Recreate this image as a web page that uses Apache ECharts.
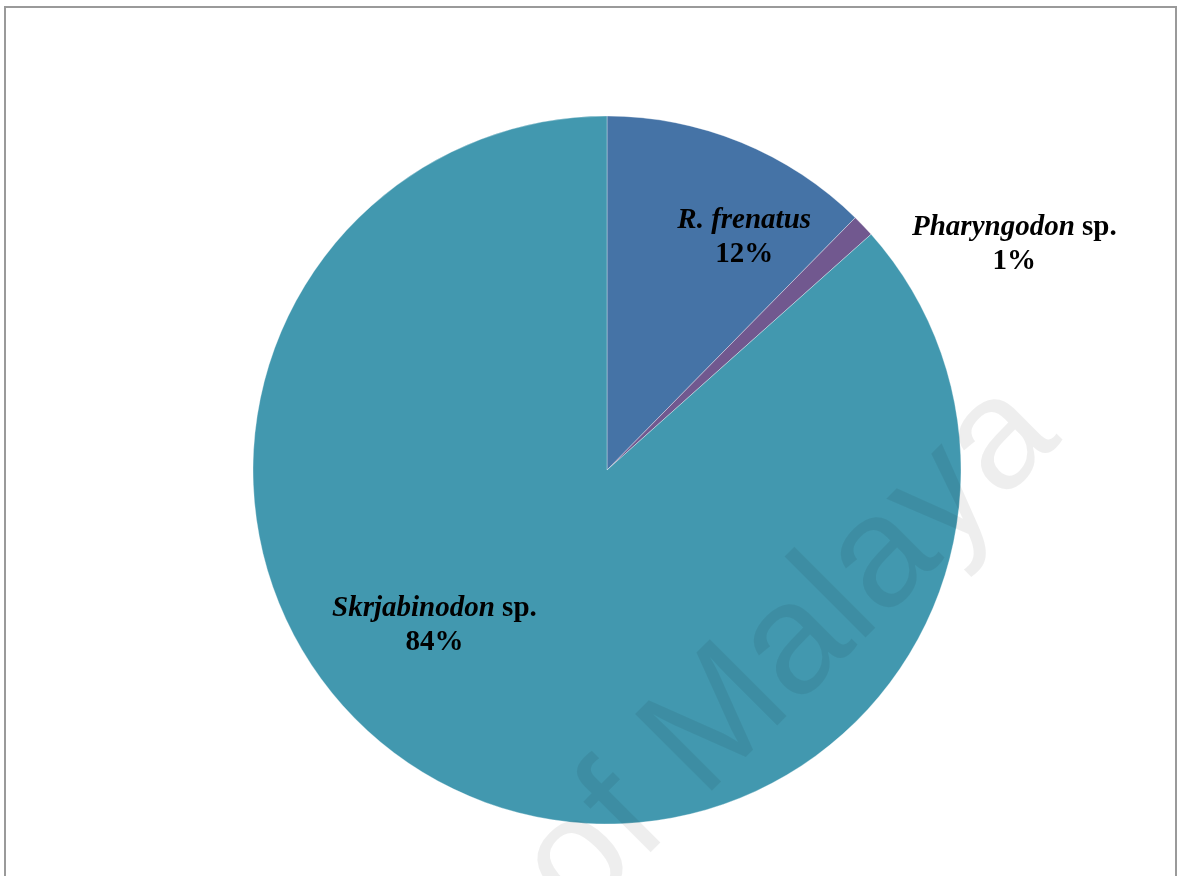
<!DOCTYPE html>
<html>
<head>
<meta charset="utf-8">
<title>Nematode species composition</title>
<script src="https://cdn.jsdelivr.net/npm/echarts@6/dist/echarts.min.js"></script>
<style>
  html, body { margin: 0; padding: 0; background: #ffffff; }
  #chart { width: 1178px; height: 876px; }
</style>
</head>
<body>
<div id="chart"></div>
<script>
// Species names: italic genus/species part and the plain suffix
const speciesNames = ['R. frenatus', 'Pharyngodon', 'Skrjabinodon'];
const speciesSuffix = ['', ' sp.', ' sp.'];
// Percentage of the nematode community per species
const percentValues = [12, 1, 84];
const sliceColors = ['#4573A6', '#71588F', '#4298AF'];
// Manual nudges of each label from its default slice position
const labelShiftX = [69, 277, -99];
const labelShiftY = [-66, -101, -9];

const chart = echarts.init(document.getElementById('chart'), null, { renderer: 'canvas' });

const pieData = speciesNames.map((name, i) => ({
  name: name,
  value: percentValues[i],
  itemStyle: { color: sliceColors[i] }
}));

const labelFont = '"Liberation Serif", "Times New Roman", serif';

const option = {
  animation: false,
  backgroundColor: '#ffffff',
  graphic: [
    {
      type: 'rect',
      shape: { x: 5, y: 7, width: 1171, height: 900 },
      style: { fill: 'none', stroke: '#9a9a9a', lineWidth: 2 },
      silent: true,
      z: 0
    },
    {
      type: 'text',
      x: 1088,
      y: 465,
      rotation: Math.PI / 4,
      silent: true,
      z: 100,
      style: {
        text: 'University of Malaya',
        fontFamily: '"Liberation Sans", Arial, sans-serif',
        fontSize: 158,
        fill: 'rgba(0,0,0,0.065)',
        align: 'right',
        verticalAlign: 'bottom'
      }
    }
  ],
  series: [
    {
      type: 'pie',
      center: [607, 470],
      radius: 354,
      startAngle: 90,
      clockwise: true,
      avoidLabelOverlap: false,
      itemStyle: { borderColor: 'rgba(255,255,255,0.55)', borderWidth: 0.6 },
      label: {
        show: true,
        position: 'inside',
        color: '#000000',
        align: 'center',
        formatter: function (p) {
          const i = p.dataIndex;
          let first = '{i|' + speciesNames[i] + '}';
          if (speciesSuffix[i]) first += '{n|' + speciesSuffix[i] + '}';
          return first + '\n{n|' + percentValues[i] + '%}';
        },
        rich: {
          i: {
            fontFamily: labelFont,
            fontStyle: 'italic',
            fontWeight: 'bold',
            fontSize: 29,
            lineHeight: 34,
            color: '#000000'
          },
          n: {
            fontFamily: labelFont,
            fontWeight: 'bold',
            fontSize: 29,
            lineHeight: 34,
            color: '#000000'
          }
        }
      },
      labelLine: { show: false },
      labelLayout: function (params) {
        return { dx: labelShiftX[params.dataIndex], dy: labelShiftY[params.dataIndex] };
      },
      emphasis: { disabled: true },
      data: pieData
    }
  ]
};

chart.setOption(option);
</script>
</body>
</html>
